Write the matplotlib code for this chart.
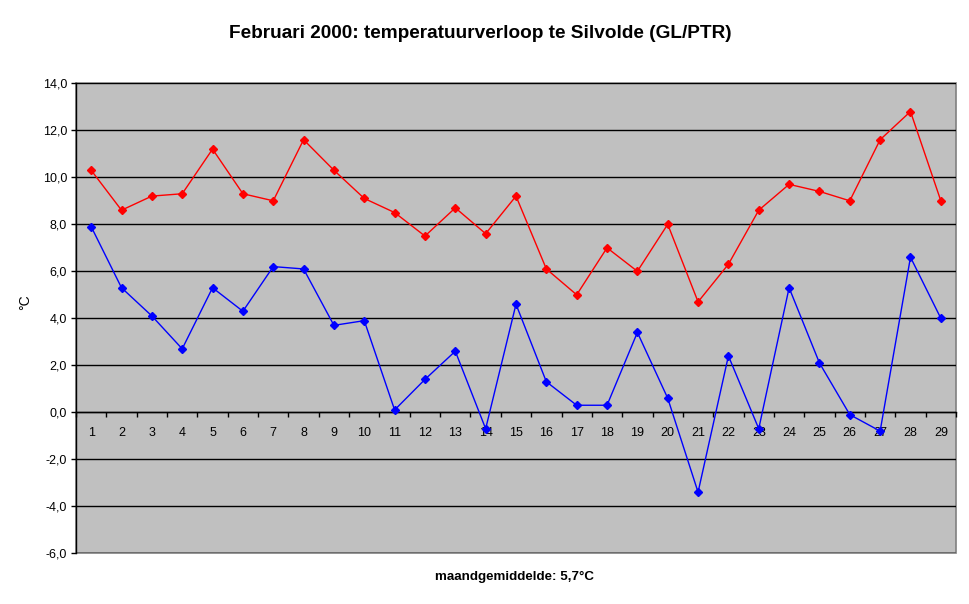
import matplotlib
matplotlib.use("Agg")
import matplotlib.pyplot as plt
from matplotlib.ticker import FixedLocator, FuncFormatter
from matplotlib.patches import Rectangle

days = list(range(1, 30))
tmax = [10.3, 8.6, 9.2, 9.3, 11.2, 9.3, 9.0, 11.6, 10.3, 9.1,
        8.5, 7.5, 8.7, 7.6, 9.2, 6.1, 5.0, 7.0, 6.0, 8.0,
        4.7, 6.3, 8.6, 9.7, 9.4, 9.0, 11.6, 12.8, 9.0]
tmin = [7.9, 5.3, 4.1, 2.7, 5.3, 4.3, 6.2, 6.1, 3.7, 3.9,
        0.1, 1.4, 2.6, -0.7, 4.6, 1.3, 0.3, 0.3, 3.4, 0.6,
        -3.4, 2.4, -0.7, 5.3, 2.1, -0.1, -0.8, 6.6, 4.0]
title = "Februari 2000: temperatuurverloop te Silvolde (GL/PTR)"
ylabel = "°C"
xlabel = "maandgemiddelde: 5,7°C"
yticks = [-6, -4, -2, 0, 2, 4, 6, 8, 10, 12, 14]

plt.rcParams['font.family'] = ['Liberation Sans', 'DejaVu Sans']

fig = plt.figure(figsize=(9.7, 6.04), dpi=100)
ax = fig.add_axes([76/970, 1 - 553.3/604, (956 - 76)/970, (553.3 - 83.3)/604])
ax.set_facecolor('#C0C0C0')

ax.set_xlim(0.5, 29.5)
ax.set_ylim(-6, 14)

for y in yticks:
    ax.axhline(y, color='black', linewidth=1.0, zorder=1)

ax.plot(days, tmax, color='#FF0000', linewidth=1.0, marker='D', markersize=4.5,
        markerfacecolor='#FF0000', markeredgecolor='#FF0000', zorder=3)
ax.plot(days, tmin, color='#0000FF', linewidth=1.0, marker='D', markersize=4.5,
        markerfacecolor='#0000FF', markeredgecolor='#0000FF', zorder=3)

# spines
for s in ['top', 'right']:
    ax.spines[s].set_visible(False)
ax.spines['left'].set_color('black')
ax.spines['left'].set_linewidth(1.0)
ax.spines['bottom'].set_position(('data', 0))
ax.spines['bottom'].set_color('black')
ax.spines['bottom'].set_linewidth(1.0)
border = Rectangle((0, 0), 1, 1, transform=ax.transAxes, fill=False,
                   edgecolor='#808080', linewidth=1.2, zorder=0.5, clip_on=False)
ax.add_patch(border)
ax.spines['left'].set_zorder(4)

# y ticks
ax.yaxis.set_major_locator(FixedLocator(yticks))
ax.yaxis.set_major_formatter(FuncFormatter(lambda v, p: f"{v:.1f}".replace('.', ',')))
ax.tick_params(axis='y', direction='out', length=3.5, width=1, pad=3,
               labelsize=9, colors='black')

# x ticks: marks at boundaries, labels at centers
ax.xaxis.set_major_locator(FixedLocator([d + 0.5 for d in days[:-1]] + [0.5, 29.5]))
ax.xaxis.set_major_formatter(FuncFormatter(lambda v, p: ""))
ax.xaxis.set_minor_locator(FixedLocator(days))
ax.xaxis.set_minor_formatter(FuncFormatter(lambda v, p: f"{int(round(v))}"))
ax.tick_params(axis='x', which='major', direction='out', length=3.5, width=1, colors='black')
ax.tick_params(axis='x', which='minor', length=0, pad=10.5, labelsize=9)

fig.text(480/970, 1 - 33/604, title, ha='center', va='center',
         fontsize=13.7, fontweight='bold')
fig.text(515/970, 1 - 577/604, xlabel, ha='center', va='center',
         fontsize=9.6, fontweight='bold')
fig.text(25/970, 1 - 302/604, ylabel, ha='center', va='center',
         fontsize=10, rotation=90)

fig.savefig('out.png', dpi=100, facecolor='white')
